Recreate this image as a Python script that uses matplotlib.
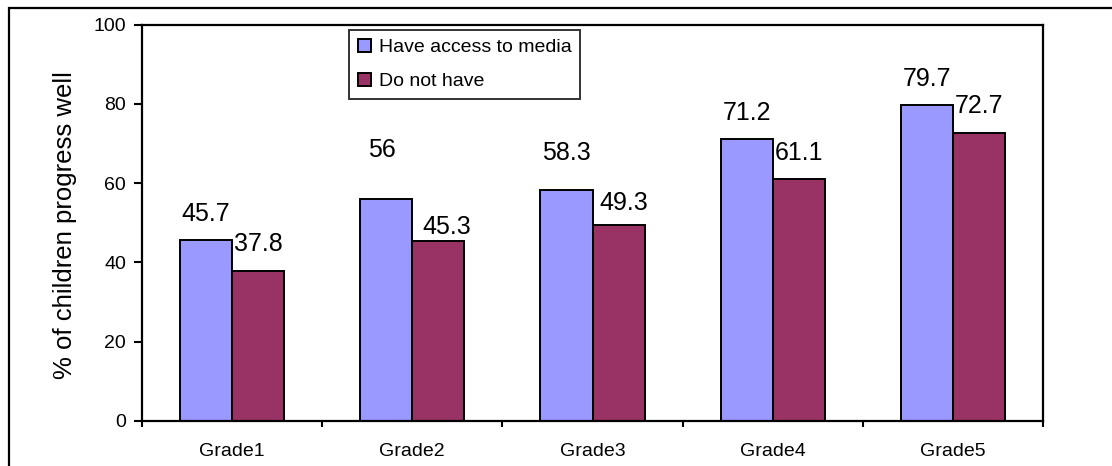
import numpy as np
import matplotlib
matplotlib.use("Agg")
import matplotlib.pyplot as plt
from matplotlib.patches import Rectangle

plt.rcParams['font.family'] = ['Liberation Sans', 'DejaVu Sans']

grades = ['Grade1', 'Grade2', 'Grade3', 'Grade4', 'Grade5']
have_media = [45.7, 56, 58.3, 71.2, 79.7]
no_media = [37.8, 45.3, 49.3, 61.1, 72.7]
series_names = ['Have access to media', 'Do not have']
yticks = [0, 20, 40, 60, 80, 100]

# label nudges (points) to mimic where the original labels sit
have_off = [(0, 13.2), (-2.9, 30.2), (0, 21.6), (0, 13.2), (0, 13.9)]
no_off = [(0, 14.1), (6.3, 5.3), (3.6, 11.4), (0, 13.7), (0, 14.0)]

W, H = 1112, 466
fig = plt.figure(figsize=(W / 100, H / 100), dpi=100)
ax = fig.add_axes([142 / W, 1 - 420.7 / H, (1043 - 142) / W, (420.7 - 24.7) / H])

# outer chart border (right and bottom edges fall outside the image)
fig.add_artist(Rectangle((8.7 / W, -0.5), 2, 1.5 - 7.5 / H, transform=fig.transFigure,
                         fill=False, edgecolor='black', linewidth=1.6, clip_on=False))

x = np.arange(len(grades))
bw = 0.289
b1 = ax.bar(x - bw / 2, have_media, bw, color='#9999FF', edgecolor='black', linewidth=1.4,
            label=series_names[0], zorder=2)
b2 = ax.bar(x + bw / 2, no_media, bw, color='#993366', edgecolor='black', linewidth=1.4,
            label=series_names[1], zorder=2)

for bars, vals, offs in [(b1, have_media, have_off), (b2, no_media, no_off)]:
    for r, v, (dx, dy) in zip(bars, vals, offs):
        ax.annotate(f'{v:g}', (r.get_x() + r.get_width() / 2, v), xytext=(dx, dy),
                    textcoords='offset points', ha='center', va='baseline', fontsize=18)

ax.set_xlim(-0.5, len(grades) - 0.5)
ax.set_ylim(0, 100)
ax.set_yticks(yticks)
ax.set_xticks(x)
ax.set_xticklabels(grades)
ax.set_xticks(np.arange(len(grades) + 1) - 0.5, minor=True)
ax.tick_params(axis='x', which='major', length=0, pad=16, labelsize=14)
ax.tick_params(axis='x', which='minor', length=4.5, width=1.5, direction='out')
ax.tick_params(axis='y', length=5.5, width=1.5, direction='out', pad=6, labelsize=14)
for s in ax.spines.values():
    s.set_linewidth(1.6)

ax.set_ylabel('% of children progress well', fontsize=18.5, va='center')
ax.yaxis.set_label_coords((65 - 142) / 901, 0.494)

leg = ax.legend(loc='upper left', bbox_to_anchor=(349 / W, 1 - 30 / H),
                bbox_transform=fig.transFigure, fontsize=14, frameon=True, fancybox=False,
                borderaxespad=0, handlelength=0.67, handleheight=0.67, handletextpad=0.4,
                labelspacing=0.86, borderpad=0.45)
leg.get_frame().set_edgecolor('black')
leg.get_frame().set_linewidth(1.4)

fig.savefig('out.png', dpi=100)
